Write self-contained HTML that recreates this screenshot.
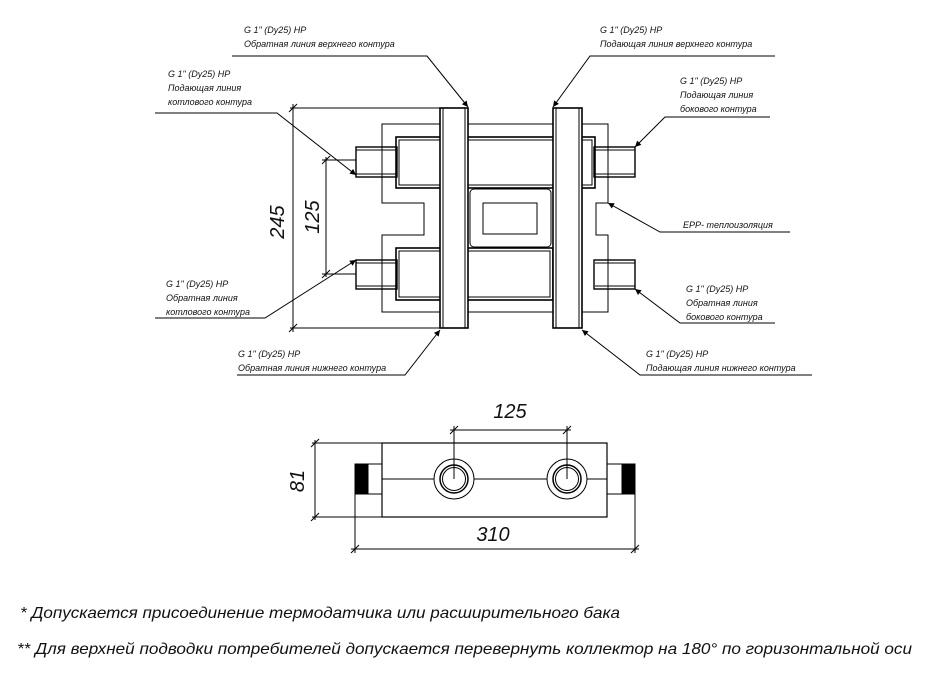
<!DOCTYPE html>
<html><head><meta charset="utf-8"><style>
html,body{margin:0;padding:0;background:#fff;}
svg{display:block;}
text{font-family:"Liberation Sans",sans-serif;font-style:italic;fill:#111;}
.l{font-size:9px;}
.d{font-size:20px;}
.f{font-size:16px;}
</style></head><body>
<svg width="951" height="678" viewBox="0 0 951 678" xmlns="http://www.w3.org/2000/svg">
<defs>
<marker id="a" viewBox="0 0 10 10" refX="10" refY="5" markerWidth="10" markerHeight="6" orient="auto-start-reverse" markerUnits="userSpaceOnUse"><path d="M0,0 L10,5 L0,10 z" fill="#000"/></marker>
</defs>
<g fill="none" stroke="#000" stroke-width="1">
<!-- insulation outline -->
<path d="M382,124 H608 V203 H596 V235 H608 V312 H382 V235 H424 V203 H382 Z"/>
<!-- upper body -->
<rect x="396" y="137" width="199" height="51" fill="#fff" stroke-width="1.6"/>
<rect x="399" y="140" width="193" height="45"/>
<!-- lower body -->
<rect x="396" y="248" width="157" height="52" fill="#fff" stroke-width="1.6"/>
<rect x="399" y="251" width="151" height="46"/>
<!-- center -->
<rect x="470" y="189" width="81" height="58" rx="4"/>
<rect x="483" y="203" width="54" height="31"/>
<!-- vertical pipes -->
<rect x="440" y="108" width="28" height="220" fill="#fff" stroke-width="1.6"/>
<rect x="443" y="108" width="22" height="220"/>
<rect x="553" y="108" width="29" height="220" fill="#fff" stroke-width="1.6"/>
<rect x="556" y="108" width="23" height="220"/>
<!-- stubs -->
<rect x="356" y="147" width="41" height="30" stroke-width="1.4"/>
<rect x="356" y="260" width="41" height="29" stroke-width="1.4"/>
<rect x="594" y="147" width="41" height="30" stroke-width="1.4"/>
<rect x="594" y="260" width="41" height="29" stroke-width="1.4"/>
<line x1="356" y1="150" x2="396" y2="150"/><line x1="356" y1="174" x2="396" y2="174"/>
<line x1="356" y1="263" x2="396" y2="263"/><line x1="356" y1="286" x2="396" y2="286"/>
<line x1="595" y1="150" x2="635" y2="150"/><line x1="595" y1="174" x2="635" y2="174"/>
<line x1="595" y1="263" x2="635" y2="263"/><line x1="595" y1="286" x2="635" y2="286"/>
<!-- dimensions -->
<line x1="290" y1="108" x2="440" y2="108"/><line x1="290" y1="328" x2="440" y2="328"/>
<line x1="293" y1="104" x2="293" y2="332"/>
<line x1="322" y1="160" x2="356" y2="160"/><line x1="322" y1="274" x2="356" y2="274"/>
<line x1="326" y1="157" x2="326" y2="277"/>
<!-- leaders -->
<polyline points="232,56 427,56 468,107" marker-end="url(#a)"/>
<polyline points="775,56 590,56 553,107" marker-end="url(#a)"/>
<polyline points="155,113 277,113 356,175" marker-end="url(#a)"/>
<polyline points="770,117 665,117 635,147" marker-end="url(#a)"/>
<polyline points="790,232 660,232 608,203" marker-end="url(#a)"/>
<polyline points="155,318 265,318 356,260" marker-end="url(#a)"/>
<polyline points="775,323 680,323 635,289" marker-end="url(#a)"/>
<polyline points="237,375 405,375 440,330" marker-end="url(#a)"/>
<polyline points="812,375 640,375 582,330" marker-end="url(#a)"/>
<!-- bottom view -->
<rect x="382" y="443" width="225" height="74" stroke-width="1.2"/>
<line x1="382" y1="479" x2="434" y2="479"/><line x1="474" y1="479" x2="547" y2="479"/><line x1="587" y1="479" x2="607" y2="479"/>
<rect x="355" y="464" width="27" height="30"/>
<rect x="607" y="464" width="28" height="30"/>
<rect x="355" y="464" width="13" height="30" fill="#000"/>
<rect x="622" y="464" width="13" height="30" fill="#000"/>
<circle cx="454" cy="479" r="20"/><circle cx="454" cy="479" r="14" stroke-width="1.5"/><circle cx="454" cy="479" r="11.5"/>
<circle cx="567" cy="479" r="20"/><circle cx="567" cy="479" r="14" stroke-width="1.5"/><circle cx="567" cy="479" r="11.5"/>
<line x1="312" y1="443" x2="382" y2="443"/><line x1="312" y1="517" x2="382" y2="517"/>
<line x1="315" y1="440" x2="315" y2="520"/>
<line x1="454" y1="426" x2="454" y2="479"/><line x1="567" y1="426" x2="567" y2="479"/>
<line x1="450" y1="430" x2="571" y2="430"/>
<line x1="355" y1="494" x2="355" y2="553"/><line x1="635" y1="494" x2="635" y2="553"/>
<line x1="351" y1="549" x2="639" y2="549"/>
</g>
<g stroke="#000" stroke-width="1">
<line x1="289" y1="112" x2="297" y2="104"/><line x1="289" y1="332" x2="297" y2="324"/>
<line x1="322" y1="164" x2="330" y2="156"/><line x1="322" y1="278" x2="330" y2="270"/>
<line x1="450" y1="434" x2="458" y2="426"/><line x1="563" y1="434" x2="571" y2="426"/>
<line x1="311" y1="447" x2="319" y2="439"/><line x1="311" y1="521" x2="319" y2="513"/>
<line x1="351" y1="553" x2="359" y2="545"/><line x1="631" y1="553" x2="639" y2="545"/>
</g>
<!-- dim texts -->
<text class="d" transform="translate(284,222) rotate(-90)" text-anchor="middle">245</text>
<text class="d" transform="translate(319,217) rotate(-90)" text-anchor="middle">125</text>
<text class="d" x="510" y="418" text-anchor="middle">125</text>
<text class="d" transform="translate(304,481) rotate(-90)" text-anchor="middle">81</text>
<text class="d" x="493" y="541" text-anchor="middle">310</text>
<!-- labels -->
<text class="l" x="244" y="33">G 1" (Dy25) НР</text>
<text class="l" x="244" y="47">Обратная линия верхнего контура</text>
<text class="l" x="600" y="33">G 1" (Dy25) НР</text>
<text class="l" x="600" y="47">Подающая линия верхнего контура</text>
<text class="l" x="168" y="77">G 1" (Dy25) НР</text>
<text class="l" x="168" y="91">Подающая линия</text>
<text class="l" x="168" y="105">котлового контура</text>
<text class="l" x="680" y="84">G 1" (Dy25) НР</text>
<text class="l" x="680" y="98">Подающая линия</text>
<text class="l" x="680" y="112">бокового контура</text>
<text class="l" x="683" y="228">EPP- теплоизоляция</text>
<text class="l" x="166" y="287">G 1" (Dy25) НР</text>
<text class="l" x="166" y="301">Обратная линия</text>
<text class="l" x="166" y="315">котлового контура</text>
<text class="l" x="686" y="292">G 1" (Dy25) НР</text>
<text class="l" x="686" y="306">Обратная линия</text>
<text class="l" x="686" y="320">бокового контура</text>
<text class="l" x="238" y="357">G 1" (Dy25) НР</text>
<text class="l" x="238" y="371">Обратная линия нижнего контура</text>
<text class="l" x="646" y="357">G 1" (Dy25) НР</text>
<text class="l" x="646" y="371">Подающая линия нижнего контура</text>
<!-- footnotes -->
<text class="f" x="20" y="618" textLength="600" lengthAdjust="spacingAndGlyphs">* Допускается  присоединение термодатчика или расширительного бака</text>
<text class="f" x="17" y="654" textLength="895" lengthAdjust="spacingAndGlyphs">** Для верхней подводки потребителей допускается перевернуть коллектор на 180° по горизонтальной оси</text>
</svg>
</body></html>
